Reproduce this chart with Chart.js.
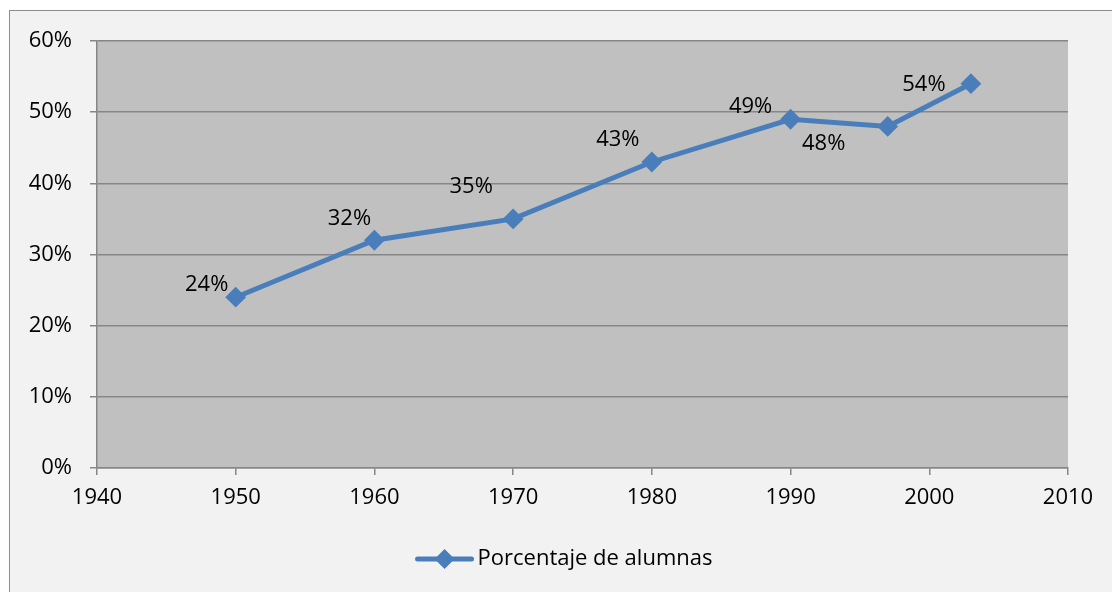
<!DOCTYPE html>
<html>
<head>
<meta charset="utf-8">
<title>Porcentaje de alumnas</title>
<script src="https://cdn.jsdelivr.net/npm/chart.js@4/dist/chart.umd.min.js"></script>
<style>
  html, body { margin: 0; padding: 0; background: #ffffff; }
  canvas { display: block; }
</style>
</head>
<body>
<canvas id="alumnasChart" width="1112" height="592"></canvas>
<script>
// data
const years = [1950, 1960, 1970, 1980, 1990, 1997, 2003];
const percentages = [24, 32, 35, 43, 49, 48, 54];
const seriesName = 'Porcentaje de alumnas';

const FONT = "'Open Sans', 'Noto Sans', sans-serif";
const BLUE = '#4A7EBB';
const GRID = '#868686';

// where each value label sits relative to its marker (label centre offset)
const labelOffsets = [[-29, -12], [-25, -22], [-42, -32], [-34, -22], [-40, -13], [-64, 17], [-47, 1]];

const backgroundPlugin = {
  id: 'background',
  beforeDraw(chart) {
    const { ctx, chartArea } = chart;
    ctx.save();
    ctx.fillStyle = '#ffffff';
    ctx.fillRect(0, 0, chart.width, chart.height);
    ctx.fillStyle = '#F2F2F2';
    ctx.fillRect(9.5, 10.5, chart.width + 20, chart.height + 20);
    ctx.strokeStyle = '#8C8C8C';
    ctx.lineWidth = 1;
    ctx.strokeRect(9.5, 10.5, chart.width + 20, chart.height + 20);
    ctx.fillStyle = '#C0C0C0';
    ctx.fillRect(chartArea.left, chartArea.top, chartArea.right - chartArea.left, chartArea.bottom - chartArea.top);
    ctx.restore();
  }
};

const valueLabels = {
  id: 'valueLabels',
  afterDatasetsDraw(chart) {
    const { ctx } = chart;
    const meta = chart.getDatasetMeta(0);
    ctx.save();
    ctx.font = '22px ' + FONT;
    ctx.fillStyle = '#000000';
    ctx.textAlign = 'center';
    ctx.textBaseline = 'middle';
    meta.data.forEach((pt, i) => {
      const off = labelOffsets[i] || [0, -20];
      ctx.fillText(percentages[i] + '%', pt.x + off[0], pt.y + off[1]);
    });
    ctx.restore();
  }
};

const legendBox = {
  id: 'legendBox',
  afterDraw(chart) {
    const { ctx } = chart;
    const label = chart.data.datasets[0].label;
    ctx.save();
    ctx.font = '22px ' + FONT;
    const textW = ctx.measureText(label).width;
    const lineW = 58, gap = 4;
    const startX = 564 - (lineW + gap + textW) / 2;
    const y = 559;
    ctx.strokeStyle = BLUE;
    ctx.lineWidth = 5;
    ctx.lineCap = 'round';
    ctx.beginPath();
    ctx.moveTo(startX + 2, y);
    ctx.lineTo(startX + lineW - 2, y);
    ctx.stroke();
    const cx = startX + lineW / 2, r = 10;
    ctx.fillStyle = BLUE;
    ctx.beginPath();
    ctx.moveTo(cx - r, y);
    ctx.lineTo(cx, y - r);
    ctx.lineTo(cx + r, y);
    ctx.lineTo(cx, y + r);
    ctx.closePath();
    ctx.fill();
    ctx.fillStyle = '#000000';
    ctx.textAlign = 'left';
    ctx.textBaseline = 'middle';
    ctx.fillText(label, startX + lineW + gap, y);
    ctx.restore();
  }
};

const ctx = document.getElementById('alumnasChart').getContext('2d');

new Chart(ctx, {
  type: 'line',
  data: {
    datasets: [
      {
        label: seriesName,
        data: years.map((y, i) => ({ x: y, y: percentages[i] })),
        borderColor: BLUE,
        backgroundColor: BLUE,
        borderWidth: 5,
        pointStyle: 'rectRot',
        pointRadius: 9,
        pointBorderWidth: 2,
        pointBackgroundColor: BLUE,
        pointBorderColor: BLUE,
        tension: 0,
        clip: false,
      }
    ]
  },
  options: {
    responsive: false,
    animation: false,
    layout: {
      padding: { left: 0, right: 44, top: 41, bottom: 0 }
    },
    plugins: {
      legend: { display: false },
      tooltip: { enabled: false },
      title: { display: false }
    },
    scales: {
      x: {
        type: 'linear',
        min: 1940,
        max: 2010,
        afterFit: (scale) => { scale.height = 124; },
        border: { display: true, color: GRID, width: 1.5 },
        grid: {
          drawOnChartArea: false,
          drawTicks: true,
          tickLength: 7,
          color: GRID,
          lineWidth: 1.5,
        },
        ticks: {
          stepSize: 10,
          color: '#000000',
          padding: 10,
          maxRotation: 0,
          font: { size: 22, family: FONT },
          callback: (value) => String(value),
        }
      },
      y: {
        min: 0,
        max: 60,
        afterFit: (scale) => { scale.width = 97; },
        border: { display: true, color: GRID, width: 1.5 },
        grid: {
          drawOnChartArea: true,
          drawTicks: true,
          tickLength: 7,
          color: GRID,
          lineWidth: 1.5,
        },
        ticks: {
          stepSize: 10,
          color: '#000000',
          padding: 18,
          font: { size: 22, family: FONT },
          callback: (value) => value + '%',
        }
      }
    }
  },
  plugins: [backgroundPlugin, valueLabels, legendBox]
});
</script>
</body>
</html>
